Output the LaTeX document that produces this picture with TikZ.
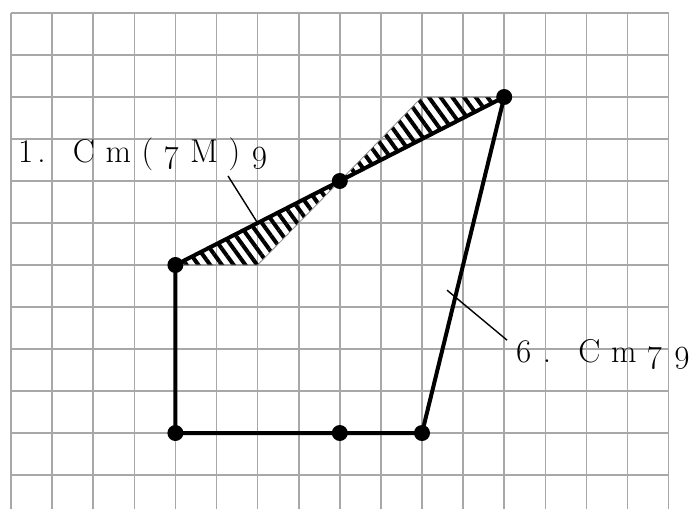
\documentclass[tikz,border=0pt]{standalone}
\usepackage{fontspec}
\usepackage{xcolor}
\usepackage{tikz}
\usetikzlibrary{positioning, calc, patterns.meta, backgrounds}
\newfontfamily\lblfont[LetterSpace=32]{Latin Modern Roman}
\newfontfamily\osfont[LetterSpace=32, Numbers=OldStyle]{Latin Modern Roman}
\definecolor{gridLine}{HTML}{a8a8a8}
\definecolor{hatchEdge}{HTML}{8c8c8c}

\begin{document}
\begin{tikzpicture}[x=41.1pt, y=-42pt, grd/.style={draw=gridLine, line width=1.6pt}, edge/.style={line width=4pt, line join=round}, pt/.style={circle, fill, inner sep=0pt, minimum size=16pt}, lead/.style={line width=1.4pt}, lbl/.style={font=\fontsize{33}{33}\osfont, inner sep=0pt}]
\useasboundingbox (-0.2676,-0.3095) rectangle (16.5207,11.8095);
% points of the figure
\node[pt] (a) at (4,6) {};
\node[pt] (b) at (4,10) {};
\node[pt] (c) at (8,10) {};
\node[pt] (d) at (10,10) {};
\node[pt] (e) at (12,2) {};
\node[pt] (f) at (8,4) {};
\begin{scope}[on background layer]
\foreach \c in {0,...,16} \draw[grd] (\c,0) -- (\c,11.81);
\foreach \r in {0,...,11} \draw[grd] (0,\r) -- (16,\r);
\filldraw[draw=hatchEdge, line width=0.8pt, pattern={Lines[angle=-54, distance=9.5pt, line width=4pt]}] (a.center) -- (6,6) -- (10,2) -- (e.center) -- cycle;
\end{scope}
\draw[edge] (a.center) -- (f.center) -- (e.center) -- (d.center) -- (c.center) -- (b.center) -- cycle;
% labels
\node[lbl, anchor=base west] (cm1) at (0.17,3.57) {{\lblfont 1}\hspace{0.12em}. Cm(7M)9};
\node[lbl, anchor=base west] (cm2) at (12.26,8.31) {6. Cm79};
\coordinate (k1) at (5.28,3.88);
\coordinate (k2) at (10.61,6.6);
\coordinate (k2end) at (12.07,7.79);
\draw[lead] (k1) -- ($(a)!0.25!(e)$);
\draw[lead] (k2) -- (k2end);
\end{tikzpicture}
\end{document}
